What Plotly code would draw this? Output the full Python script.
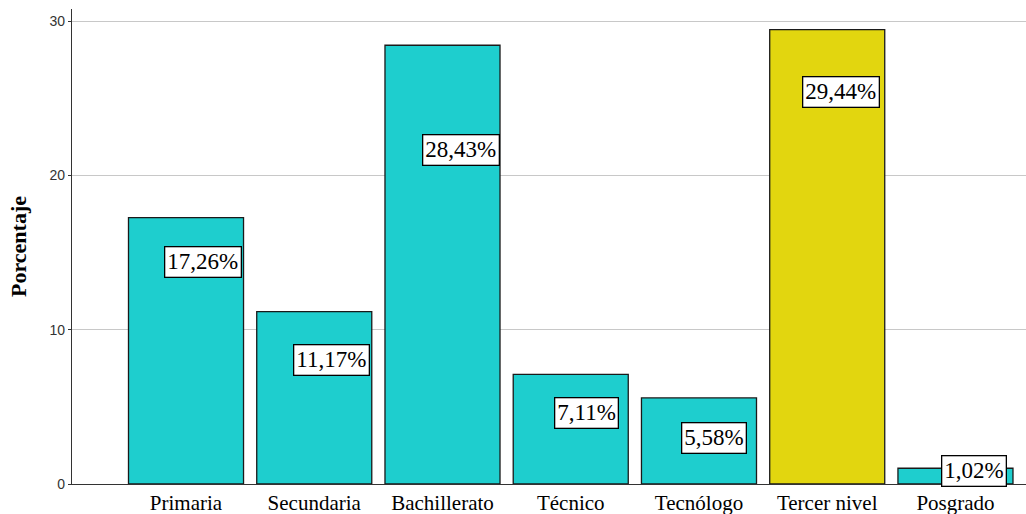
import plotly.graph_objects as go

categories = ["Primaria", "Secundaria", "Bachillerato", "Técnico", "Tecnólogo", "Tercer nivel", "Posgrado"]
percentages = [17.26, 11.17, 28.43, 7.11, 5.58, 29.44, 1.02]
value_labels = ["17,26%", "11,17%", "28,43%", "7,11%", "5,58%", "29,44%", "1,02%"]
y_ticks = [0, 10, 20, 30]

# styling / layout (not data)
CYAN = "#1ECECE"
YELLOW = "#E2D60F"
bar_colors = [YELLOW if c == "Tercer nivel" else CYAN for c in categories]
label_dx = [17, 17.5, 19, 15.5, 15.5, 13.5, 19]    # px, label centre vs bar centre
label_dy = [-44, -48, -105, -39, -40, -62, -3]     # px, label centre vs bar top

fig = go.Figure()
fig.add_trace(go.Bar(
    x=categories, y=percentages,
    marker=dict(color=bar_colors, line=dict(color="#1a1a1a", width=1.3)),
    hoverinfo="skip",
))

for cat, val, txt, dx, dy in zip(categories, percentages, value_labels, label_dx, label_dy):
    fig.add_annotation(
        x=cat, y=val, xref="x", yref="y", text=txt, showarrow=False,
        xanchor="center", yanchor="middle", xshift=dx, yshift=dy,
        font=dict(family="Liberation Serif", size=23, color="black"),
        bgcolor="white", bordercolor="black", borderwidth=1.3, borderpad=2,
    )

fig.update_layout(
    width=1026, height=514,
    margin=dict(l=72, r=0, t=9, b=30, autoexpand=False),
    plot_bgcolor="white", paper_bgcolor="white",
    bargap=0.103, showlegend=False,
    xaxis=dict(
        type="category", categoryorder="array", categoryarray=categories,
        range=[-0.889, 6.55], automargin=False,
        showline=True, linecolor="#333333", linewidth=1.2,
        showgrid=False, ticks="", ticklabelstandoff=0,
        tickfont=dict(family="Liberation Serif", size=21, color="black"),
    ),
    yaxis=dict(
        range=[0, 30.78], tickvals=y_ticks, automargin=False,
        showline=True, linecolor="#333333", linewidth=1.2,
        showgrid=True, gridcolor="#c8c8c8", gridwidth=1,
        zeroline=False, ticks="outside", ticklen=3, tickcolor="#333333",
        tickfont=dict(family="Liberation Sans", size=14, color="#333333"),
        title=dict(text="<b>Porcentaje</b>", standoff=16,
                   font=dict(family="Liberation Serif", size=22, color="black")),
    ),
)

fig.write_html("out.html", config={"displayModeBar": False},
               post_script="document.body.style.margin='0';document.body.style.overflow='hidden';")
